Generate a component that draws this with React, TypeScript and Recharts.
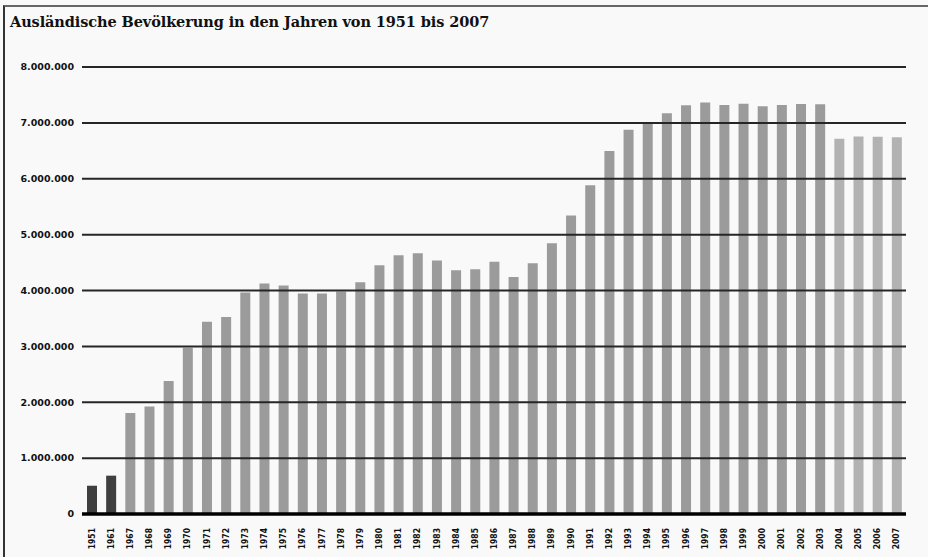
import { BarChart, Bar, XAxis, YAxis, ReferenceLine, Cell } from 'recharts';

const years = ['1951','1961','1967','1968','1969','1970','1971','1972','1973','1974','1975','1976','1977','1978','1979','1980','1981','1982','1983','1984','1985','1986','1987','1988','1989','1990','1991','1992','1993','1994','1995','1996','1997','1998','1999','2000','2001','2002','2003','2004','2005','2006','2007'];
const population = [506000,686200,1806700,1924200,2381100,2976500,3438700,3526600,3966200,4127400,4089600,3948300,3948300,3981100,4146800,4453300,4629800,4666900,4534900,4363600,4378900,4512700,4240500,4489100,4845900,5342500,5882300,6495800,6878100,6990500,7173900,7314000,7365800,7319600,7343600,7296800,7318600,7335600,7334800,6717100,6755800,6751000,6744900];
const yTicks = [0,1000000,2000000,3000000,4000000,5000000,6000000,7000000,8000000];

const data = years.map((y, i) => ({ year: y, value: population[i] }));

function barColor(y:string){
  const n = Number(y);
  if(n < 1967) return '#3f3f3f';
  if(n >= 2004) return '#b2b2b2';
  return '#9b9b9b';
}

const fmt = (v:number) => v === 0 ? '0' : v.toLocaleString('de-DE');

function YearTick(props:any){
  const { x, y, payload } = props;
  return (
    <text x={x} y={y} transform={`rotate(-90 ${x} ${y})`} dx={-6} dy={3} textAnchor="end"
      fontSize={8.5} fontWeight="bold" fill="#111" fontFamily="'DejaVu Sans Condensed', 'DejaVu Sans', sans-serif">
      {payload.value}
    </text>
  );
}

export default function App(){
  return (
    <div style={{ position:'absolute', left:0, top:0, width:928, height:557, background:'#f9f9f9', overflow:'hidden' }}>
      <div style={{ position:'absolute', left:3, top:5, right:0, bottom:0, borderTop:'2px solid #666', borderLeft:'2px solid #333' }} />
      <div style={{ position:'absolute', left:10, top:13, fontFamily:"'DejaVu Serif', serif", fontWeight:'bold', fontSize:14.5, color:'#111', letterSpacing:-0.1, whiteSpace:'nowrap' }}>
        Ausländische Bevölkerung in den Jahren von 1951 bis 2007
      </div>
      <div style={{ position:'absolute', left:0, top:0 }}>
        <BarChart width={928} height={557} data={data} margin={{ top:67, right:22, bottom:0, left:0 }} barCategoryGap={0}>
          <XAxis dataKey="year" interval={0} height={43} tickLine={false} tick={<YearTick />}
            axisLine={{ stroke:'#000', strokeWidth:3.5 }} />
          <YAxis width={82} domain={[0, 8000000]} ticks={yTicks} tickFormatter={fmt} axisLine={false} tickLine={false}
            tickSize={0} tickMargin={8} interval={0}
            tick={{ fontSize:9.5, fontWeight:'bold', fill:'#111', fontFamily:"'DejaVu Sans', sans-serif" }} />
          <Bar dataKey="value" barSize={10} isAnimationActive={false}>
            {data.map((d) => <Cell key={d.year} fill={barColor(d.year)} />)}
          </Bar>
          {yTicks.slice(1).map((t) => (
            <ReferenceLine key={t} y={t} stroke="#262626" strokeWidth={2} />
          ))}
        </BarChart>
      </div>
    </div>
  );
}
